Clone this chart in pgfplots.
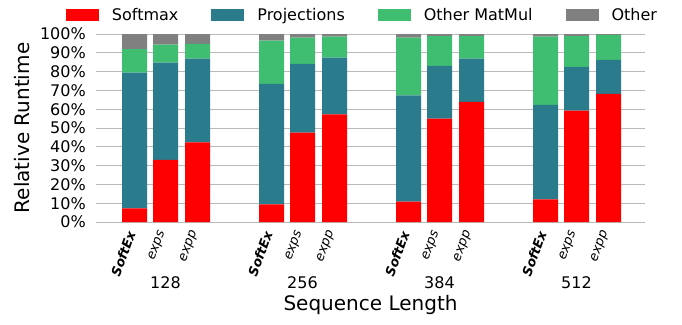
\documentclass[border=0pt]{standalone}
\usepackage{pgfplots}
\pgfplotsset{compat=1.18}
\usepackage{fontspec}
\setmainfont{DejaVu Sans}
\definecolor{csoft}{HTML}{FF0000}
\definecolor{cproj}{HTML}{2A7B8C}
\definecolor{cmat}{HTML}{3FBE72}
\definecolor{coth}{HTML}{808080}
\begin{document}
\begin{tikzpicture}
\useasboundingbox (-96pt,-102pt) rectangle (586pt,222pt);
\begin{axis}[
  at={(0pt,0pt)}, anchor=south west,
  scale only axis, width=549pt, height=188pt,
  xmin=96, xmax=645, ymin=0, ymax=100,
  ybar stacked, bar width=25,
  clip=false,
  axis line style={draw=none}, tick style={draw=none},
  ymajorgrids, grid style={gray!55, line width=0.8pt},
  /pgf/number format/assume math mode=true,
  ytick={0,10,20,30,40,50,60,70,80,90,100},
  yticklabels={0\%,10\%,20\%,30\%,40\%,50\%,60\%,70\%,80\%,90\%,100\%},
  yticklabel style={font=\fontsize{16pt}{19pt}\selectfont, inner sep=0pt, xshift=-10pt},
  xtick={134.5,165.5,197.5,271.5,302.5,334.5,408.5,439.5,471.5,545.5,576.5,608.5},
  xticklabels={\textbf{\textit{SoftEx}},\textit{exps},\textit{expp},\textbf{\textit{SoftEx}},\textit{exps},\textit{expp},\textbf{\textit{SoftEx}},\textit{exps},\textit{expp},\textbf{\textit{SoftEx}},\textit{exps},\textit{expp}},
  xticklabel style={xshift=-3pt, yshift=-9pt, font=\fontsize{13pt}{15pt}\selectfont, rotate=70, anchor=east, inner sep=0pt},
  ylabel={Relative Runtime},
  ylabel style={font=\fontsize{20pt}{24pt}\selectfont, at={(axis description cs:0,0.5)}, anchor=center, yshift=74pt},
  xlabel={Sequence Length},
  xlabel style={font=\fontsize{20pt}{24pt}\selectfont, at={(axis description cs:0.5,0)}, anchor=center, yshift=-83pt},
  legend columns=4,
  legend style={at={(0.5,1)}, anchor=south, yshift=9pt, xshift=-9pt, draw=none, fill=none,
    font=\fontsize{16pt}{19pt}\selectfont,
    /tikz/every odd column/.append style={column sep=13pt},
    /tikz/every even column/.append style={column sep=33pt},
    nodes={inner xsep=0pt, inner ysep=1pt, anchor=base west}},
  legend image code/.code={\fill[#1, draw=none] (0pt,-1pt) rectangle (33pt,11pt);},
]
\addplot[fill=csoft, draw=none] coordinates {
(134.5,7.3) (165.5,33.1) (197.5,42.3)
(271.5,9.4) (302.5,47.6) (334.5,57.2)
(408.5,10.8) (439.5,55.0) (471.5,63.9)
(545.5,12.0) (576.5,59.3) (608.5,68.1)};
\addplot[fill=cproj, draw=none] coordinates {
(134.5,72.2) (165.5,51.7) (197.5,44.6)
(271.5,64.1) (302.5,36.5) (334.5,30.2)
(408.5,56.5) (439.5,28.0) (471.5,23.0)
(545.5,50.3) (576.5,23.2) (608.5,18.1)};
\addplot[fill=cmat, draw=none] coordinates {
(134.5,12.5) (165.5,9.5) (197.5,7.8)
(271.5,23.0) (302.5,14.0) (334.5,11.2)
(408.5,30.8) (439.5,15.9) (471.5,12.0)
(545.5,36.3) (576.5,16.4) (608.5,13.4)};
\addplot[fill=coth, draw=none] coordinates {
(134.5,8.0) (165.5,5.7) (197.5,5.3)
(271.5,3.5) (302.5,1.9) (334.5,1.4)
(408.5,1.9) (439.5,1.1) (471.5,1.1)
(545.5,1.4) (576.5,1.1) (608.5,0.4)};
\legend{Softmax,Projections,Other MatMul,Other}
\node[font=\fontsize{16pt}{19pt}\selectfont] at (axis cs:165.5,0) [yshift=-61pt] {128};
\node[font=\fontsize{16pt}{19pt}\selectfont] at (axis cs:302.5,0) [yshift=-61pt] {256};
\node[font=\fontsize{16pt}{19pt}\selectfont] at (axis cs:439.5,0) [yshift=-61pt] {384};
\node[font=\fontsize{16pt}{19pt}\selectfont] at (axis cs:576.5,0) [yshift=-61pt] {512};
\end{axis}
\end{tikzpicture}
\end{document}
